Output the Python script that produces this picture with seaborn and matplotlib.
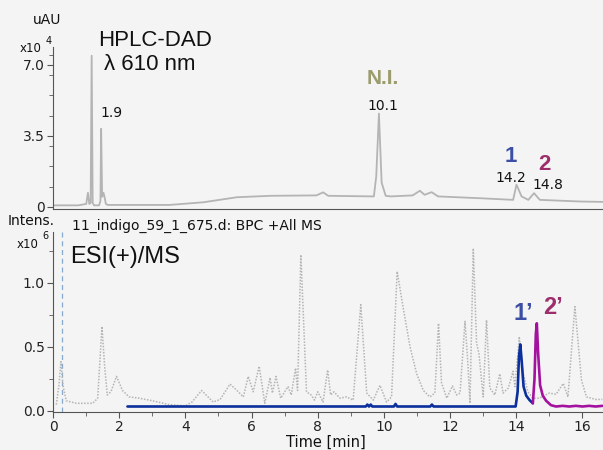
import numpy as np
import pandas as pd
import matplotlib
matplotlib.use("Agg")
import matplotlib.pyplot as plt
from matplotlib.ticker import MultipleLocator, FixedLocator
import seaborn as sns

# ---------------- data ----------------
# HPLC-DAD trace (time in min, absorbance in 1e4 uAU)
dad_t = [0.46, 1.20, 1.44, 1.49, 1.53, 1.57, 1.60, 1.63, 1.67, 1.82,
         1.86, 1.88, 1.91, 1.95, 1.98, 2.02, 2.08, 3.0, 3.9, 4.9,
         5.9, 6.9, 8.25, 8.45, 8.6, 9.95, 10.02, 10.10, 10.18, 10.30,
         10.45, 11.1, 11.31, 11.45, 11.66, 11.85, 13.1, 14.07, 14.17, 14.32,
         14.52, 14.69, 14.86, 16.05, 16.73]
dad_v = [0.08, 0.08, 0.15, 0.7, 0.15, 0.2, 7.45, 0.2, 0.08, 0.08,
         0.3, 3.85, 0.5, 0.7, 0.5, 0.15, 0.1, 0.1, 0.1, 0.23,
         0.48, 0.55, 0.57, 0.72, 0.55, 0.52, 1.5, 4.6, 1.2, 0.55,
         0.52, 0.57, 0.8, 0.6, 0.73, 0.52, 0.43, 0.35, 1.1, 0.52,
         0.35, 0.68, 0.35, 0.27, 0.25]

# BPC +All MS trace (intensity in 1e6)
bpc_t = [0.10, 0.18, 0.24, 0.30, 0.40, 0.7, 1.2, 1.35, 1.48, 1.56,
         1.64, 1.75, 1.92, 2.1, 2.3, 2.6, 3.0, 3.5, 4.0, 4.2,
         4.49, 4.84, 5.05, 5.35, 5.6, 5.75, 5.9, 6.05, 6.23, 6.4,
         6.56, 6.63, 6.74, 6.88, 7.1, 7.2, 7.33, 7.39, 7.49, 7.66,
         7.8, 7.9, 8.0, 8.16, 8.3, 8.39, 8.49, 8.67, 8.87, 9.07,
         9.3, 9.48, 9.68, 9.88, 10.08, 10.23, 10.4, 10.58, 10.79, 10.99,
         11.19, 11.39, 11.54, 11.65, 11.74, 11.9, 12.07, 12.2, 12.3, 12.45,
         12.53, 12.6, 12.7, 12.8, 12.87, 13.0, 13.1, 13.2, 13.35, 13.5,
         13.6, 13.76, 13.9, 13.96, 14.09, 14.2, 14.35, 14.5, 14.7, 15.0,
         15.2, 15.42, 15.56, 15.77, 15.87, 15.97, 16.12, 16.4, 16.6]
bpc_v = [0.05, 0.2, 0.385, 0.2, 0.08, 0.06, 0.06, 0.1, 0.66, 0.35,
         0.125, 0.15, 0.27, 0.16, 0.11, 0.1, 0.08, 0.05, 0.04, 0.07,
         0.16, 0.07, 0.09, 0.21, 0.15, 0.11, 0.27, 0.15, 0.35, 0.06,
         0.26, 0.14, 0.27, 0.1, 0.19, 0.125, 0.335, 0.16, 1.22, 0.15,
         0.125, 0.085, 0.15, 0.07, 0.32, 0.125, 0.15, 0.1, 0.11, 0.085,
         0.83, 0.14, 0.085, 0.2, 0.07, 0.11, 1.09, 0.81, 0.5, 0.29,
         0.16, 0.11, 0.14, 0.685, 0.22, 0.1, 0.195, 0.125, 0.14, 0.70,
         0.4, 0.06, 1.27, 0.53, 0.45, 0.11, 0.71, 0.18, 0.125, 0.29,
         0.14, 0.18, 0.31, 0.19, 0.58, 0.3, 0.15, 0.1, 0.1, 0.14,
         0.13, 0.215, 0.11, 0.815, 0.53, 0.24, 0.11, 0.09, 0.09]

# Extracted ion chromatograms (1e6)
eic1_t = [2.25, 9.45, 9.5, 9.55, 9.6, 9.65, 10.3, 10.35, 10.4, 11.4,
          11.45, 11.5, 13.98, 14.04, 14.08, 14.12, 14.16, 14.22, 14.3, 14.4, 14.5]
eic1_v = [0.035, 0.035, 0.05, 0.035, 0.05, 0.035, 0.035, 0.055, 0.035, 0.035,
          0.05, 0.035, 0.035, 0.15, 0.42, 0.52, 0.4, 0.19, 0.12, 0.085, 0.06]
eic2_t = [14.5, 14.55, 14.59, 14.62, 14.66, 14.72, 14.8, 14.9, 15.05, 15.2,
          15.4, 15.6, 15.8, 16.0, 16.2, 16.4, 16.6]
eic2_v = [0.06, 0.25, 0.6, 0.685, 0.45, 0.2, 0.12, 0.08, 0.045, 0.035,
          0.04, 0.035, 0.04, 0.035, 0.04, 0.035, 0.04]

injection_marker_t = 0.26

top_yticks = [0, 3.5, 7.0]
top_yticklabels = ["0", "3.5", "7.0"]
bot_yticks = [0.0, 0.5, 1.0]
bot_yticklabels = ["0.0", "0.5", "1.0"]
bot_xticks = [0, 2, 4, 6, 8, 10, 12, 14, 16]

peak_labels_top = [("1.9", 1.9), ("10.1", 10.1), ("14.2", 14.2), ("14.8", 14.8)]

# ---------------- style ----------------
BG = "#f4f4f4"
AXC = "#555555"
sns.set_style("ticks", rc={"axes.facecolor": BG, "figure.facecolor": BG,
                           "axes.edgecolor": AXC, "xtick.color": AXC,
                           "ytick.color": AXC})
plt.rcParams["font.family"] = ["DejaVu Sans"]

W, H = 603, 450
fig = plt.figure(figsize=(W / 100, H / 100), dpi=100)


def px_axes(left, top, right, bottom):
    return fig.add_axes([left / W, 1 - bottom / H, (right - left) / W, (bottom - top) / H])


def ftext(x, y, s, **kw):
    kw.setdefault("va", "center")
    kw.setdefault("ha", "left")
    fig.text(x / W, 1 - y / H, s, **kw)


ax1 = px_axes(53, 47, 603, 209)
ax2 = px_axes(53, 232, 603, 412)

# ---- top: HPLC-DAD ----
df_dad = pd.DataFrame({"t": dad_t, "v": dad_v})
sns.lineplot(data=df_dad, x="t", y="v", ax=ax1, color="#b4b4b4", lw=1.3,
             estimator=None, sort=False)
ax1.set_xlim(0.456, 16.73)
ax1.set_ylim(-0.1, 7.88)
ax1.set_xticks([])
ax1.set_yticks(top_yticks)
ax1.set_yticklabels(top_yticklabels)
ax1.yaxis.set_minor_locator(FixedLocator([1.0, 2.0, 3.0, 4.5, 5.5, 6.5, 7.5]))
ax1.set_xlabel("")
ax1.set_ylabel("")
for s in ["top", "right"]:
    ax1.spines[s].set_visible(False)
ax1.tick_params(axis="y", which="major", length=4, labelsize=10, pad=2, colors=AXC,
                labelcolor="#222222")
ax1.tick_params(axis="y", which="minor", length=3, colors=AXC)

# ---- bottom: ESI(+)/MS ----
df_bpc = pd.DataFrame({"t": bpc_t, "v": bpc_v})
df_e1 = pd.DataFrame({"t": eic1_t, "v": eic1_v})
df_e2 = pd.DataFrame({"t": eic2_t, "v": eic2_v})
ax2.axvline(injection_marker_t, color="#86a9cf", ls=(0, (4, 3)), lw=0.9)
sns.lineplot(data=df_bpc, x="t", y="v", ax=ax2, color="#b4b4b4", lw=1.1,
             ls=(0, (1, 1)), estimator=None, sort=False)
sns.lineplot(data=df_e1, x="t", y="v", ax=ax2, color="#0b2f9c", lw=1.9,
             estimator=None, sort=False)
sns.lineplot(data=df_e2, x="t", y="v", ax=ax2, color="#a3119e", lw=1.9,
             estimator=None, sort=False)
ax2.set_xlim(0, 16.62)
ax2.set_ylim(-0.008, 1.398)
ax2.set_xticks(bot_xticks)
ax2.set_xticklabels([str(v) for v in bot_xticks])
ax2.xaxis.set_minor_locator(MultipleLocator(1))
ax2.set_yticks(bot_yticks)
ax2.set_yticklabels(bot_yticklabels)
ax2.yaxis.set_minor_locator(FixedLocator([0.25, 0.75, 1.25]))
ax2.set_xlabel("")
ax2.set_ylabel("")
for s in ["top", "right"]:
    ax2.spines[s].set_visible(False)
ax2.tick_params(axis="both", which="major", length=4, labelsize=10, pad=2, colors=AXC,
                labelcolor="#222222")
ax2.tick_params(axis="both", which="minor", length=3, colors=AXC)

# ---------------- texts ----------------
TXT = "#111111"
ARIAL = ["Liberation Sans", "DejaVu Sans"]
ftext(33, 20, "uAU", fontsize=10, color=TXT)
ftext(20, 48, "x10", fontsize=8.5, color=TXT)
ftext(46, 41, "4", fontsize=7, color=TXT)
ftext(98, 40, "HPLC-DAD", fontsize=16, family=ARIAL, color=TXT)
ftext(104, 65, "λ 610 nm", fontsize=16, family=ARIAL, color=TXT)

ftext(383, 79, "N.I.", fontsize=15, family=ARIAL, fontweight="bold", color="#9b9b6c", ha="center")
ftext(511, 156, "1", fontsize=16, family=ARIAL, fontweight="bold", color="#3d4ea5", ha="center")
ftext(544, 164, "2", fontsize=16, family=ARIAL, fontweight="bold", color="#9c2f6b", ha="center")

label_pos = {"1.9": (111, 113), "10.1": (383, 106), "14.2": (511, 178), "14.8": (548, 185)}
for lab, _t in peak_labels_top:
    x, y = label_pos[lab]
    ftext(x, y, lab, fontsize=10, color=TXT, ha="center")

ftext(8, 221, "Intens.", fontsize=10, color=TXT)
ftext(72, 226, "11_indigo_59_1_675.d: BPC +All MS", fontsize=10, color=TXT)
ftext(17, 244, "x10", fontsize=8.5, color=TXT)
ftext(42, 236, "6", fontsize=7, color=TXT)
ftext(70, 257, "ESI(+)/MS", fontsize=17, family=ARIAL, color=TXT)
ftext(523, 314, "1’", fontsize=17, family=ARIAL, fontweight="bold", color="#3d4ea5", ha="center")
ftext(553, 307, "2’", fontsize=17, family=ARIAL, fontweight="bold", color="#9c2f6b", ha="center")
ftext(326, 442, "Time [min]", fontsize=10.5, color=TXT, ha="center")

fig.savefig("out.png", dpi=100, facecolor=BG)
